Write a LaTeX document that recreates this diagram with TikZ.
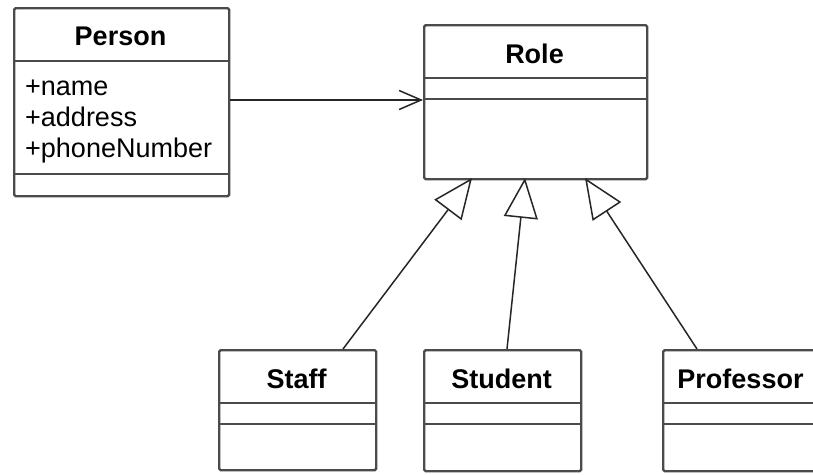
\documentclass[tikz,border=0pt]{standalone}
\usepackage{fontspec}
\setmainfont{Liberation Sans}
\usetikzlibrary{arrows.meta}
\definecolor{boxline}{RGB}{75,75,75}
\begin{document}
\begin{tikzpicture}[x=1pt,y=-1pt,
  umlbox/.style={draw=boxline,line width=2.4pt,rounded corners=1.5pt,fill=white,inner sep=0pt,anchor=north west},
  sepline/.style={draw=boxline,line width=2.4pt},
  title/.style={font=\fontsize{27}{32}\selectfont\bfseries,anchor=base,inner sep=0pt},
  attr/.style={font=\fontsize{27}{32}\selectfont,anchor=base west,inner sep=0pt},
  assoc/.style={draw=black!85,line width=1.5pt,-{Straight Barb[length=22pt,width=19pt,line width=1.5pt]}},
  gen/.style={draw=black!85,line width=1.5pt,-{Triangle[open,fill=white,length=40pt,width=34pt,line width=1.5pt]}}
]
\useasboundingbox (0,0) rectangle (813,474);

% Person
\node[umlbox,minimum width=215pt,minimum height=188pt] (person) at (13,7) {};
\draw[sepline] (13,61) -- (228,61);
\draw[sepline] (13,174) -- (228,174);
\node[title] (personT) at (120.5,45) {Person};
\node[attr] (a1) at (25,95) {+name};
\node[attr] (a2) at (25,126) {+address};
\node[attr] (a3) at (25,157) {+phoneNumber};

% Role
\node[umlbox,minimum width=223pt,minimum height=154pt] (role) at (423,24) {};
\draw[sepline] (423,78) -- (646,78);
\draw[sepline] (423,99) -- (646,99);
\node[title] (roleT) at (534.5,63) {Role};

% Staff
\node[umlbox,minimum width=157pt,minimum height=120pt] (staff) at (218,349) {};
\draw[sepline] (218,403) -- (375,403);
\draw[sepline] (218,424) -- (375,424);
\node[title] (staffT) at (296.5,388) {Staff};

% Student
\node[umlbox,minimum width=157pt,minimum height=121pt] (student) at (423,349) {};
\draw[sepline] (423,403) -- (580,403);
\draw[sepline] (423,424) -- (580,424);
\node[title] (studentT) at (501.5,388) {Student};

% Professor
\node[umlbox,minimum width=157pt,minimum height=121pt] (professor) at (662,349) {};
\draw[sepline] (662,403) -- (819,403);
\draw[sepline] (662,424) -- (819,424);
\node[title] (professorT) at (740.5,388) {Professor};

% connector end points
\coordinate (pOut) at (person.east |- 0,100);
\coordinate (rIn) at (role.west |- 0,100);
\coordinate (r1) at (472,178);
\coordinate (r2) at (525,178);
\coordinate (r3) at (585,178);
\coordinate (s1) at (343,349);
\coordinate (s2) at (507,349);
\coordinate (s3) at (697,349);

\draw[assoc] (pOut) -- (rIn);
\draw[gen] (s1) -- (r1);
\draw[gen] (s2) -- (r2);
\draw[gen] (s3) -- (r3);
\end{tikzpicture}
\end{document}
